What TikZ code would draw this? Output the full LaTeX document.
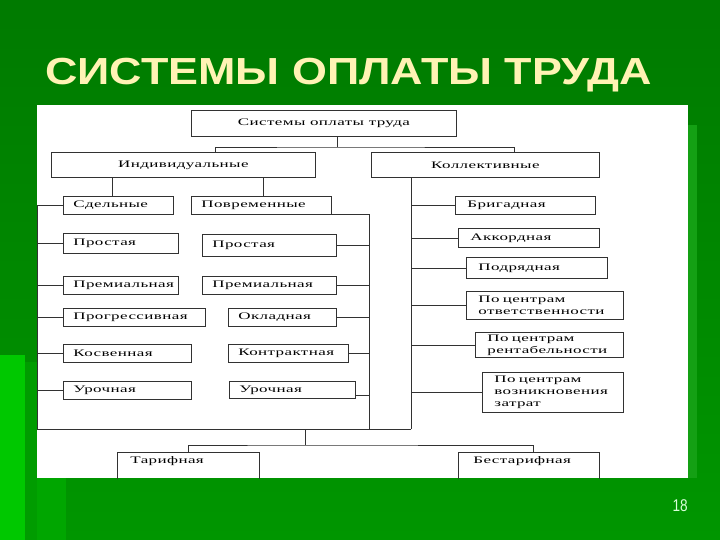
\documentclass[tikz,border=0pt]{standalone}
\usepackage{fontspec}
\setmainfont{Liberation Serif}
\newfontfamily\boxfont[FakeStretch=1.7,LetterSpace=4]{Liberation Serif}
\newfontfamily\titlefont[FakeStretch=1.19]{Liberation Sans Bold}
\newfontfamily\numfont[FakeStretch=0.8]{Liberation Sans}
\hyphenpenalty=10000
\exhyphenpenalty=10000
\definecolor{bgtop}{RGB}{0,122,0}
\definecolor{bgbottom}{RGB}{0,150,0}
\definecolor{stripebright}{RGB}{0,200,0}
\definecolor{stripedark}{RGB}{0,156,0}
\definecolor{stripemid}{RGB}{0,166,0}
\definecolor{stripelight}{RGB}{20,160,20}
\definecolor{titlecream}{RGB}{255,243,180}
\definecolor{lineclr}{RGB}{50,50,50}
\tikzset{
    box/.style={draw=lineclr, line width=.8pt, anchor=north west, inner ysep=0pt,
        font=\boxfont\fontsize{10}{12}\selectfont},
    cbox/.style={box, align=center},
    lbox/.style={box, align=left},
    link/.style={draw=lineclr, line width=.8pt},
}
\begin{document}
\begin{tikzpicture}[x=1pt, y=-1pt]
    \useasboundingbox (0,0) rectangle (720,540);
    % background
    \shade[top color=bgtop, bottom color=bgbottom] (0,0) rectangle (720,540);
    \fill[stripebright] (0,355) rectangle (25,540);
    \fill[stripedark] (25,362) rectangle (37,540);
    \fill[stripemid] (37,478) rectangle (66,540);
    \fill[stripelight] (688,125) rectangle (697,478);
    \fill[white] (37,105) rectangle (688,478);

    \node[font=\titlefont\fontsize{37.7}{40}\selectfont, text=titlecream, anchor=base west, inner sep=0pt]
        (title) at (45,85) {СИСТЕМЫ ОПЛАТЫ ТРУДА};
    \node[font=\numfont\fontsize{17}{18}\selectfont, text=green!15!white, anchor=base east, inner sep=0pt]
        (pnum) at (688,511) {18};

    \begin{scope}
        \clip (37,105) rectangle (688,478);
        \node[cbox, minimum width=265pt, minimum height=26pt] (top) at (191,110) {Системы оплаты труда};
        \node[cbox, minimum width=264pt, minimum height=25pt] (ind) at (51,152) {Индивидуальные};
        \node[cbox, minimum width=228pt, minimum height=25pt] (kol) at (371,152) {Коллективные};

        % individual systems
        \foreach \nm/\x/\y/\w/\h/\txt in
            {sd/63/196/110/18/Сдельные, prost1/63/233/115/20/Простая, prem1/63/276/115/18/Премиальная,
             prog/63/308/142/18/Прогрессивная, kosv/63/344/128/18/Косвенная, uroch1/63/381/128/18/Урочная,
             pov/191/196/140/18/Повременные, prost2/202/234/134/22/Простая, prem2/202/276/134/18/Премиальная,
             okl/228/308/108/18/Окладная, kontr/228/344/120/18/Контрактная, uroch2/229/381/126/17/Урочная}
            {
                \pgfmathsetmacro\tw{\w-20}
                \node[lbox, inner xsep=10pt, text width=\tw pt, minimum height=\h pt] (\nm) at (\x,\y) {\txt};
            }

        % collective systems
        \foreach \nm/\x/\y/\w/\h/\txt in
            {brig/455/196/140/18/Бригадная, akk/458/228/141/19/Аккордная, podr/466/257/141/21/Подрядная,
             otv/466/291/157/28/{По центрам\\ответственности}, rent/475/332/148/25/{По центрам\\рентабельности},
             zatr/482/372/141/40/{По центрам\\возникновения\\затрат}}
            {
                \pgfmathsetmacro\tw{\w-24}
                \node[lbox, inner xsep=12pt, text width=\tw pt, minimum height=\h pt] (\nm) at (\x,\y) {\txt};
            }

        \node[lbox, inner xsep=13pt, text width=116pt, inner ysep=4pt, text depth=22pt] (tar) at (117,452) {Тарифная};
        \node[lbox, inner xsep=15pt, text width=111pt, inner ysep=4pt, text depth=22pt] (bestar) at (458,452) {Бестарифная};

        \coordinate (sp) at (337,147);
        \coordinate (lb) at (37,429);
        \coordinate (rb) at (369,429);
        \coordinate (cb) at (411,429);
        \coordinate (bj) at (305,445);

        \draw[link] (top.south -| sp) -- (sp);
        \draw[link] ([xshift=164pt]ind.north west) |- (sp) -| ([xshift=143pt]kol.north west);
        \draw[link] ([xshift=-6pt]sd.north) -- ([xshift=-6pt]sd.north |- ind.south);
        \draw[link] ([xshift=2pt]pov.north) -- ([xshift=2pt]pov.north |- ind.south);

        \draw[link] (sd.west) -| (lb) -- (cb);
        \foreach \nm in {prost1,prem1,prog,kosv,uroch1}
            \draw[link] (\nm.west) -- (\nm.west -| lb);
        \draw[link] (pov.south east) -| (rb);
        \foreach \nm in {prost2,prem2,okl,kontr}
            \draw[link] (\nm.east) -- (\nm.east -| rb);
        \draw[link] ([yshift=-5pt]uroch2.east) -- ([yshift=-5pt]uroch2.east -| rb);

        \draw[link] (kol.south -| cb) -- (cb);
        \foreach \nm in {brig,akk,podr,otv,rent,zatr}
            \draw[link] (\nm.west) -- (\nm.west -| cb);

        \draw[link] (bj |- lb) -- (bj);
        \draw[link] (tar.north) |- (bj) -| ([xshift=4pt]bestar.north);
    \end{scope}
\end{tikzpicture}
\end{document}
